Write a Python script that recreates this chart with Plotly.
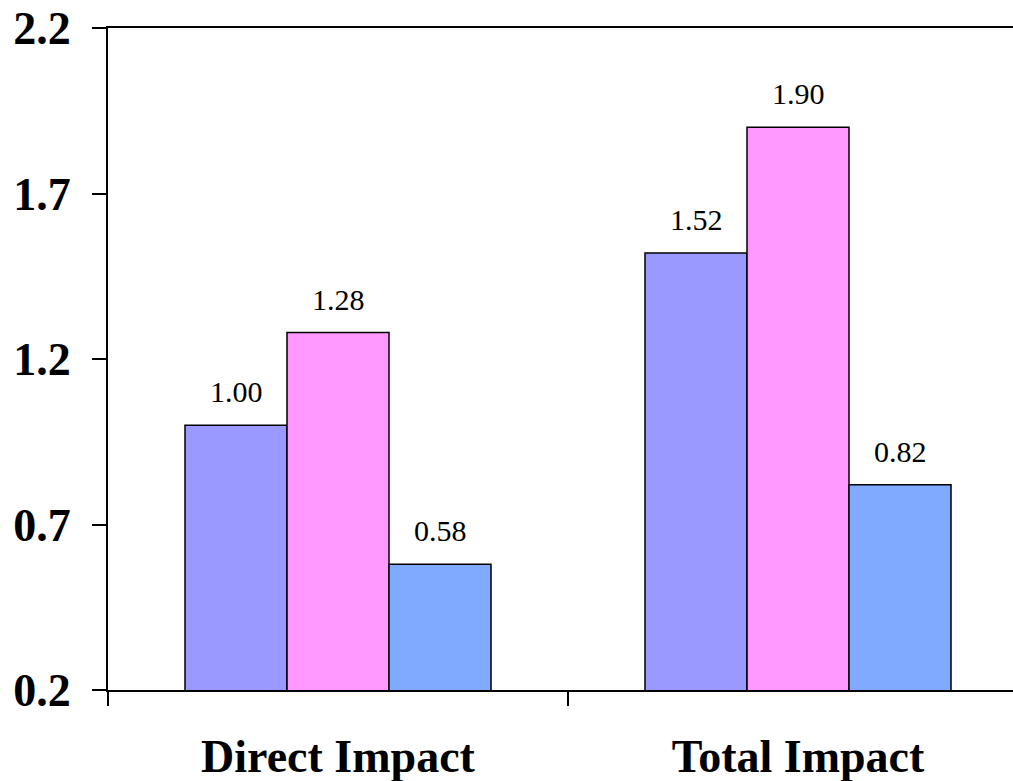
import plotly.graph_objects as go

categories = ["Direct Impact", "Total Impact"]
series_a = [1.00, 1.52]
series_b = [1.28, 1.90]
series_c = [0.58, 0.82]
tick_vals = [0.2, 0.7, 1.2, 1.7, 2.2]
tick_text = ["0.2", "0.7", "1.2", "1.7", "2.2"]

colors = ["#9999FF", "#FF99FF", "#80AAFF"]
series = [series_a, series_b, series_c]

W, H = 1013, 781
ML, MR, MT, MB = 108, 0, 28, 91
CAT_PX = 460.0
BARGAP = 1 - 306.0 / 460.0
plot_w = W - ML - MR
x_range = [-0.5, -0.5 + plot_w / CAT_PX]
bar_px = CAT_PX * (1 - BARGAP) / len(series)

FONT = "Liberation Serif"

fig = go.Figure()
for vals, col in zip(series, colors):
    fig.add_trace(go.Bar(
        x=categories, y=vals,
        marker=dict(color=col, line=dict(color="black", width=1.5)),
        hoverinfo="skip",
    ))

annotations = []
for i, vals in enumerate(series):
    for cat, v in zip(categories, vals):
        annotations.append(dict(
            x=cat, y=v, xref="x", yref="y",
            text=f"{v:.2f}", showarrow=False,
            xanchor="center", yanchor="bottom",
            xshift=(i - (len(series) - 1) / 2) * bar_px,
            yshift=15,
            font=dict(family=FONT, size=30, color="black"),
        ))

fig.update_layout(
    width=W, height=H,
    margin=dict(l=ML, r=MR, t=MT, b=MB, pad=0, autoexpand=False),
    paper_bgcolor="white", plot_bgcolor="white",
    font=dict(family=FONT, color="black"),
    barmode="group", bargap=BARGAP, bargroupgap=0,
    showlegend=False,
    annotations=annotations,
    xaxis=dict(
        type="category", range=x_range, automargin=False,
        showline=True, linecolor="black", linewidth=2, mirror=True,
        ticks="outside", tickson="boundaries", ticklen=14, tickwidth=2, tickcolor="black",
        showgrid=False, zeroline=False,
        tickfont=dict(family=FONT, size=46, color="black", weight="bold"),
        ticklabelstandoff=25,
    ),
    yaxis=dict(
        range=[0.2, 2.2], tickvals=tick_vals, ticktext=tick_text, automargin=False,
        showline=True, linecolor="black", linewidth=2,
        ticks="outside", ticklen=14, tickwidth=2, tickcolor="black",
        showgrid=False, zeroline=False,
        tickfont=dict(family=FONT, size=46, color="black", weight="bold"),
        ticklabelstandoff=12,
    ),
)

fig.write_html(
    "out.html",
    config={"displayModeBar": False},
    post_script="document.body.style.margin='0';document.body.style.overflow='hidden';",
)
